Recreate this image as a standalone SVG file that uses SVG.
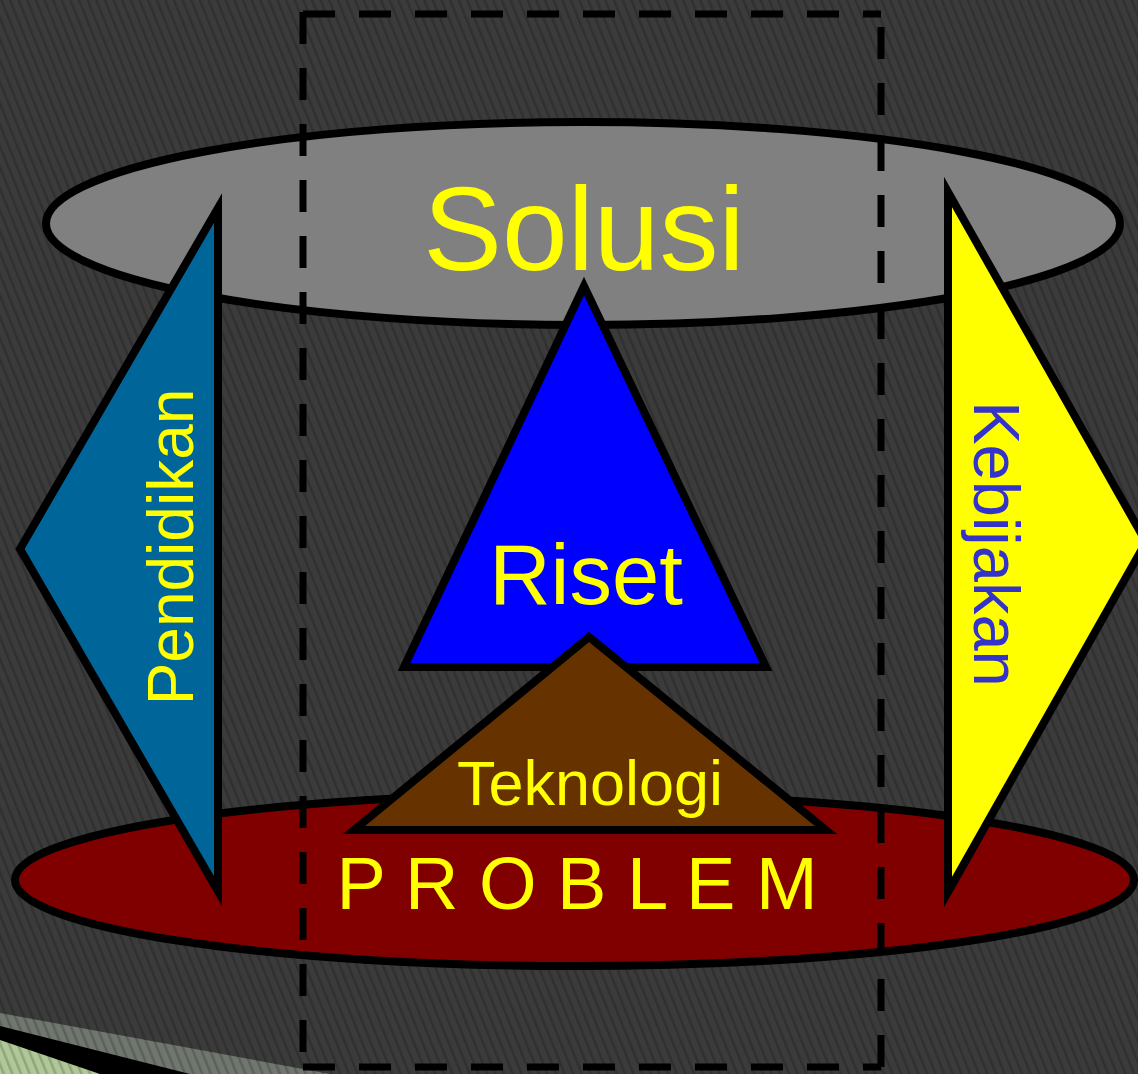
<svg xmlns="http://www.w3.org/2000/svg" width="1138" height="1074" viewBox="0 0 1138 1074">
<defs>
<pattern id="stripes" patternUnits="userSpaceOnUse" width="8" height="8" patternTransform="rotate(-22)">
<rect x="0" y="0" width="2.5" height="8" fill="#000" fill-opacity="0.18"/>
</pattern>
<style>
.shape{stroke:#000;stroke-width:8;stroke-linejoin:miter;stroke-miterlimit:10}
.dash{stroke:#000;stroke-width:7;stroke-dasharray:32 24;fill:none}
.lbl{font-family:"Liberation Sans",Arial,sans-serif;text-anchor:middle}
</style>
</defs>
<g id="background">
<rect x="0" y="0" width="1138" height="1074" fill="#3b3b3b"/>
<polygon points="0,1013 330,1074 0,1074" fill="#70776e"/>
<polygon points="0,1026 190,1074 0,1074" fill="#000"/>
<polygon points="0,1040 100,1074 0,1074" fill="#b0c898"/>
<rect x="0" y="0" width="1138" height="1074" fill="url(#stripes)"/>
</g>
<g id="solusi-ellipse">
<ellipse class="shape" cx="583" cy="223.5" rx="537" ry="101.5" fill="#808080"/>
</g>
<g id="problem">
<ellipse class="shape" cx="574.5" cy="880" rx="559.5" ry="86" fill="#800000"/>
<text class="lbl" x="577" y="909" font-size="74" fill="#ffff00">P R O B L E M</text>
</g>
<g id="frame">
<line class="dash" x1="303" y1="12" x2="303" y2="1067"/>
<line class="dash" x1="303" y1="14" x2="881" y2="14"/>
<line class="dash" x1="303" y1="1067" x2="881" y2="1067"/>
<line class="dash" x1="881" y1="1067" x2="881" y2="12"/>
</g>
<g id="solusi">
<text class="lbl" x="584" y="270" font-size="118" fill="#ffff00">Solusi</text>
</g>
<g id="pendidikan">
<polygon class="shape" points="218,208 20,549 218,891" fill="#006699"/>
<text class="lbl" transform="translate(193,547) rotate(-90)" x="0" y="0" font-size="64" fill="#ffff00">Pendidikan</text>
</g>
<g id="kebijakan">
<polygon class="shape" points="948,192 1146,542 948,892" fill="#ffff00"/>
<text class="lbl" transform="translate(974,544) rotate(90)" x="0" y="0" font-size="65" fill="#3333cc">Kebijakan</text>
</g>
<g id="riset">
<polygon class="shape" points="584,286 404,667 766,667" fill="#0000ff"/>
<text class="lbl" x="586" y="604" font-size="85" fill="#ffff00">Riset</text>
</g>
<g id="teknologi">
<polygon class="shape" points="589,637 354,830 826,830" fill="#663300"/>
<text class="lbl" x="590" y="805" font-size="63" fill="#ffff00">Teknologi</text>
</g>
</svg>
